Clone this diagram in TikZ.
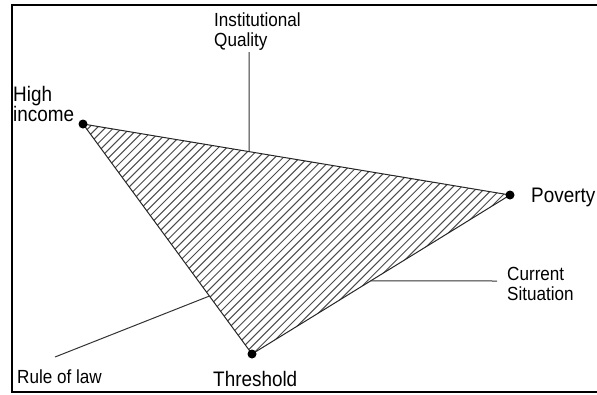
\documentclass[tikz,border=0pt]{standalone}
\usepackage{fontspec}
\setmainfont{Liberation Sans}[FakeStretch=0.9]
\usetikzlibrary{calc}
\begin{document}
\begin{tikzpicture}[x=1pt,y=-1pt,
  dot/.style={circle,fill=black,inner sep=0pt,minimum size=9pt},
  biglabel/.style={inner sep=0pt,font=\fontsize{21}{19}\selectfont,align=left},
  smalllabel/.style={inner sep=0pt,font=\fontsize{19}{20}\selectfont,align=left},
  edge/.style={draw=black!85,line width=1pt},
  leader/.style={draw=black!80,line width=1pt},
  hatch/.style={draw=black!70,line width=1pt}]
\useasboundingbox (0,0) rectangle (597,394);
\fill[white] (0,0) rectangle (597,394);
% frame
\draw[line width=2pt] (620,5) -- (12,5) -- (12,392) -- (620,392);
% vertices
\coordinate (hic) at (83,124);
\coordinate (povc) at (510,195);
\coordinate (thrc) at (252,354);
% hatch
\begin{scope}
  \clip (hic) -- (povc) -- (thrc) -- cycle;
  \foreach \c in {200,208.3,...,720} {
    \draw[hatch] (\c,0) -- (\c-420,420);
  }
\end{scope}
\draw[edge] (hic) -- (povc) -- (thrc) -- cycle;
\node[dot] (hi) at (hic) {};
\node[dot] (pov) at (povc) {};
\node[dot] (thr) at (thrc) {};
% labels
\node[biglabel,anchor=north west] (hil) at (13,86) {High\\income};
\node[biglabel,anchor=base west] (povl) at (531,202) {Poverty};
\node[biglabel,anchor=base west] (thrl) at (213,386) {Threshold};
\node[smalllabel,anchor=north west] (iql) at (214,12.4) {Institutional\\Quality};
\node[smalllabel,anchor=base west] (rll) at (17,383) {Rule of law};
\node[smalllabel,anchor=north west] (csl) at (507,267) {Current\\Situation};
% leaders
\coordinate (iqa) at (249,52);
\coordinate (iqb) at ($(hic)!0.389!(povc)$);
\draw[leader] (iqa) -- (iqb);
\coordinate (rla) at (55,357);
\coordinate (rlb) at ($(hic)!0.748!(thrc)$);
\draw[leader] (rla) -- (rlb);
\coordinate (csa) at (497,281);
\coordinate (csb) at ($(thrc)!0.46!(povc)$);
\draw[leader] (csb) -- (csa);
\end{tikzpicture}
\end{document}
